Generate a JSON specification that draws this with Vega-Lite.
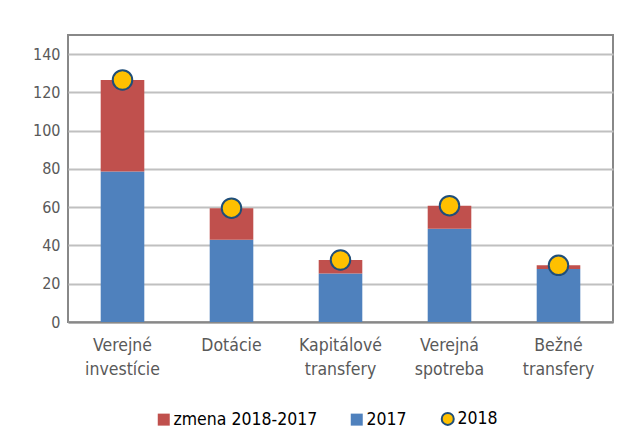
{
  "$schema": "https://vega.github.io/schema/vega-lite/v6.json",
  "width": 545,
  "height": 287,
  "autosize": {"type": "none"},
  "padding": {"left": 68, "top": 35, "right": 6, "bottom": 123},
  "background": "white",
  "config": {
    "font": "DejaVu Sans Condensed",
    "view": {"stroke": "#888888", "strokeWidth": 2},
    "axis": {"labelFont": "DejaVu Sans Condensed", "labelColor": "#595959", "labelFontSize": 16}
  },
  "datasets": {
    "bars": [
      {"cat": "Verejné investície", "series": "2017", "value": 78.7},
      {"cat": "Verejné investície", "series": "zmena 2018-2017", "value": 47.8},
      {"cat": "Dotácie", "series": "2017", "value": 43.0},
      {"cat": "Dotácie", "series": "zmena 2018-2017", "value": 16.5},
      {"cat": "Kapitálové transfery", "series": "2017", "value": 25.4},
      {"cat": "Kapitálové transfery", "series": "zmena 2018-2017", "value": 7.0},
      {"cat": "Verejná spotreba", "series": "2017", "value": 48.7},
      {"cat": "Verejná spotreba", "series": "zmena 2018-2017", "value": 12.1},
      {"cat": "Bežné transfery", "series": "2017", "value": 27.7},
      {"cat": "Bežné transfery", "series": "zmena 2018-2017", "value": 1.9}
    ],
    "points": [
      {"cat": "Verejné investície", "series": "2018", "value": 126.5},
      {"cat": "Dotácie", "series": "2018", "value": 59.5},
      {"cat": "Kapitálové transfery", "series": "2018", "value": 32.4},
      {"cat": "Verejná spotreba", "series": "2018", "value": 60.8},
      {"cat": "Bežné transfery", "series": "2018", "value": 29.6}
    ]
  },
  "encoding": {
    "x": {
      "field": "cat",
      "type": "nominal",
      "sort": ["Verejné investície", "Dotácie", "Kapitálové transfery", "Verejná spotreba", "Bežné transfery"],
      "scale": {"paddingInner": 0.6, "paddingOuter": 0.3},
      "axis": {
        "title": null,
        "labelAngle": 0,
        "ticks": false,
        "domainColor": "#888888",
        "domainWidth": 2,
        "labelPadding": 14,
        "labelFontSize": 17.5,
        "labelLineHeight": 24,
        "labelExpr": "split(datum.label, ' ')"
      }
    }
  },
  "layer": [
    {
      "data": {"name": "bars"},
      "mark": {"type": "bar"},
      "encoding": {
        "y": {
          "field": "value",
          "type": "quantitative",
          "stack": "zero",
          "scale": {"domain": [0, 150], "nice": false},
          "axis": {
            "title": null,
            "values": [0, 20, 40, 60, 80, 100, 120, 140],
            "ticks": false,
            "domain": false,
            "gridColor": "#C0C0C0",
            "gridWidth": 2,
            "labelPadding": 8
          }
        },
        "order": {"field": "series", "type": "nominal", "sort": "ascending"},
        "color": {
          "field": "series",
          "type": "nominal",
          "scale": {
            "domain": ["zmena 2018-2017", "2017", "2018"],
            "range": ["#C0504D", "#4F81BD", "#FFC000"]
          },
          "legend": {
            "title": null,
            "orient": "none",
            "legendX": 87,
            "legendY": 375,
            "direction": "horizontal",
            "labelFontSize": 17.5,
            "labelColor": "#000000",
            "labelFont": "DejaVu Sans Condensed",
            "symbolSize": 144,
            "symbolOffset": 0,
            "columnPadding": 30,
            "labelOffset": 1,
            "encode": {
              "symbols": {
                "update": {
                  "shape": {"signal": "datum.value === '2018' ? 'circle' : 'square'"},
                  "stroke": {"signal": "datum.value === '2018' ? '#1F4E79' : null"},
                  "strokeWidth": {"value": 2},
                  "opacity": {"value": 1}
                }
              }
            }
          }
        }
      }
    },
    {
      "data": {"name": "points"},
      "mark": {"type": "point", "filled": true, "size": 380, "stroke": "#1F4E79", "strokeWidth": 2, "opacity": 1},
      "encoding": {
        "y": {"field": "value", "type": "quantitative"},
        "color": {"field": "series", "type": "nominal"}
      }
    }
  ]
}
